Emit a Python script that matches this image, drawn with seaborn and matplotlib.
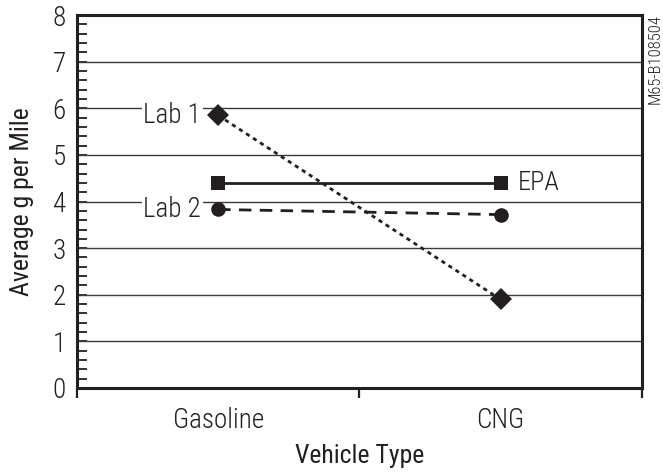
import matplotlib
matplotlib.use("Agg")
import matplotlib.pyplot as plt
import seaborn as sns
from matplotlib.ticker import MultipleLocator, FixedLocator

# Data
vehicles = ["Gasoline", "CNG"]
lab1 = [5.85, 1.9]
epa = [4.4, 4.4]
lab2 = [3.83, 3.72]

sns.set_style("white")
plt.rcParams['font.family'] = ['Roboto Condensed', 'DejaVu Sans']
plt.rcParams['font.weight'] = 300
ink = '#231f20'

fig = plt.figure(figsize=(6.63, 4.72), dpi=100)
ax = fig.add_axes([0.116, 0.178, 0.852, 0.79])

# Gridlines first so lines sit on top
for y in range(1, 8):
    ax.axhline(y, color='#3a3a3a', lw=1.0, zorder=1)

sns.lineplot(x=vehicles, y=lab1, ax=ax, color=ink, lw=2, marker='D', markersize=11,
             markeredgewidth=0, zorder=3)
ax.lines[-1].set_dashes((1.5, 1.5))
sns.lineplot(x=vehicles, y=epa, ax=ax, color=ink, lw=2, marker='s', markersize=9.5,
             markeredgewidth=0, zorder=3)
sns.lineplot(x=vehicles, y=lab2, ax=ax, color=ink, lw=2, marker='o', markersize=10.5,
             markeredgewidth=0, zorder=3)
ax.lines[-1].set_dashes((4.5, 3))

ax.set_xlim(-0.5, 1.5)
ax.set_ylim(0, 8)

# Spines
for s in ax.spines.values():
    s.set_color(ink)
    s.set_linewidth(2.2)

# y ticks: labels at integers, small inside ticks every 0.2
ax.yaxis.set_major_locator(MultipleLocator(1))
ax.yaxis.set_minor_locator(MultipleLocator(0.2))
ax.tick_params(axis='y', which='both', direction='in', length=7, width=1.3,
               color=ink, labelsize=19.5, labelcolor=ink, pad=8, left=True)

# x ticks: labels at categories, tick marks at boundaries pointing down
ax.xaxis.set_major_locator(FixedLocator([0, 1]))
ax.xaxis.set_minor_locator(FixedLocator([-0.5, 0.5, 1.5]))
ax.tick_params(axis='x', which='major', length=0, labelsize=19.5, labelcolor=ink, pad=14)
ax.tick_params(axis='x', which='minor', direction='out', length=7, width=1.6,
               color=ink, bottom=True)

ax.set_xlabel("Vehicle Type", fontsize=18.5, color=ink, labelpad=7)
ax.set_ylabel("Average g per Mile", fontsize=18.5, color=ink, labelpad=13)

box = dict(facecolor='white', edgecolor='none', pad=1)
ax.text(-0.06, lab1[0], "Lab 1", ha='right', va='center', fontsize=19.5, color=ink,
        bbox=box, zorder=2)
ax.text(-0.06, lab2[0], "Lab 2", ha='right', va='center', fontsize=19.5, color=ink,
        bbox=box, zorder=2)
ax.text(1.06, epa[1], "EPA", ha='left', va='center', fontsize=19, color=ink, zorder=2)

fig.text(1.0, 0.97, "M65-B108504", rotation=90, ha='right', va='top',
         fontsize=12, color=ink)

fig.savefig("out.png", dpi=100)
